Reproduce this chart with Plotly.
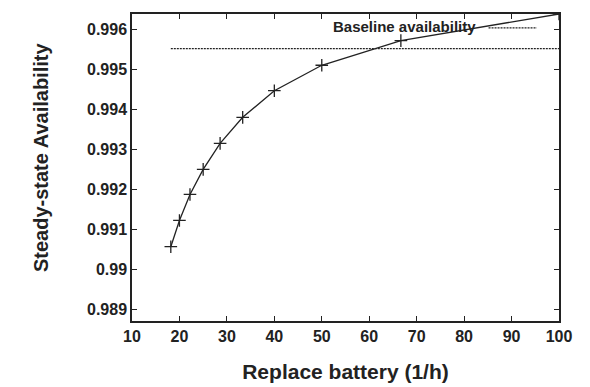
import plotly.graph_objects as go

replace_rate = [18.18, 20, 22.22, 25, 28.57, 33.33, 40, 50, 66.67, 100]
availability = [0.99057, 0.991225, 0.991875, 0.9925, 0.99315, 0.9938, 0.994465, 0.9951, 0.995715, 0.99638]
baseline_x = [18.18, 100]
baseline_value = 0.995515
x_ticks = [10, 20, 30, 40, 50, 60, 70, 80, 90, 100]
y_ticks = [0.989, 0.990, 0.991, 0.992, 0.993, 0.994, 0.995, 0.996]
y_tick_labels = ["0.989", "0.99", "0.991", "0.992", "0.993", "0.994", "0.995", "0.996"]

FONT = "Liberation Sans, Arial, sans-serif"
INK = "#222222"

fig = go.Figure()
fig.add_trace(go.Scatter(
    x=replace_rate, y=availability, mode="lines+markers",
    line=dict(color=INK, width=1.3),
    marker=dict(symbol="cross-thin", size=9, line=dict(color=INK, width=1.3)),
    showlegend=False, cliponaxis=True,
))
fig.add_trace(go.Scatter(
    x=baseline_x, y=[baseline_value] * len(baseline_x), mode="lines",
    line=dict(color=INK, width=1.2, dash="2px,1px"),
    showlegend=False,
))

# key: text with sample line to its right (gnuplot style)
fig.add_annotation(xref="paper", yref="paper", x=0.81, y=0.96, xanchor="right", yanchor="middle",
                   text="<b>Baseline availability</b>", showarrow=False,
                   font=dict(family=FONT, size=15, color=INK))
fig.add_shape(type="line", xref="paper", yref="paper", x0=0.835, x1=0.948, y0=0.955, y1=0.955,
              line=dict(color=INK, width=1.2, dash="2px,1px"))

# y-axis title (placed like the original, slightly above centre)
fig.add_annotation(xref="paper", yref="paper", x=-0.213, y=0.531, xanchor="center", yanchor="middle",
                   text="<b>Steady-state Availability</b>", textangle=-90, showarrow=False,
                   font=dict(family=FONT, size=20, color=INK))

axis_common = dict(
    showline=True, linecolor=INK, linewidth=1.5, mirror="allticks",
    ticks="inside", ticklen=5, tickcolor=INK, tickwidth=1,
    showgrid=False, zeroline=False, automargin=False,
    tickfont=dict(family=FONT, size=16, color=INK),
)
fig.update_xaxes(
    range=[10, 100], tickvals=x_ticks, ticktext=[f"<b>{v}</b>" for v in x_ticks],
    title=dict(text="<b>Replace battery (1/h)</b>", font=dict(family=FONT, size=21, color=INK), standoff=20),
    **axis_common,
)
fig.update_yaxes(
    range=[0.988715, 0.99638], tickvals=y_ticks, ticktext=[f"<b>{t}</b>" for t in y_tick_labels],
    **axis_common,
)
fig.update_layout(
    width=590, height=387,
    margin=dict(l=132, r=31, t=14, b=66),
    paper_bgcolor="white", plot_bgcolor="white",
    font=dict(family=FONT, color=INK),
)
fig.write_html("out.html")
